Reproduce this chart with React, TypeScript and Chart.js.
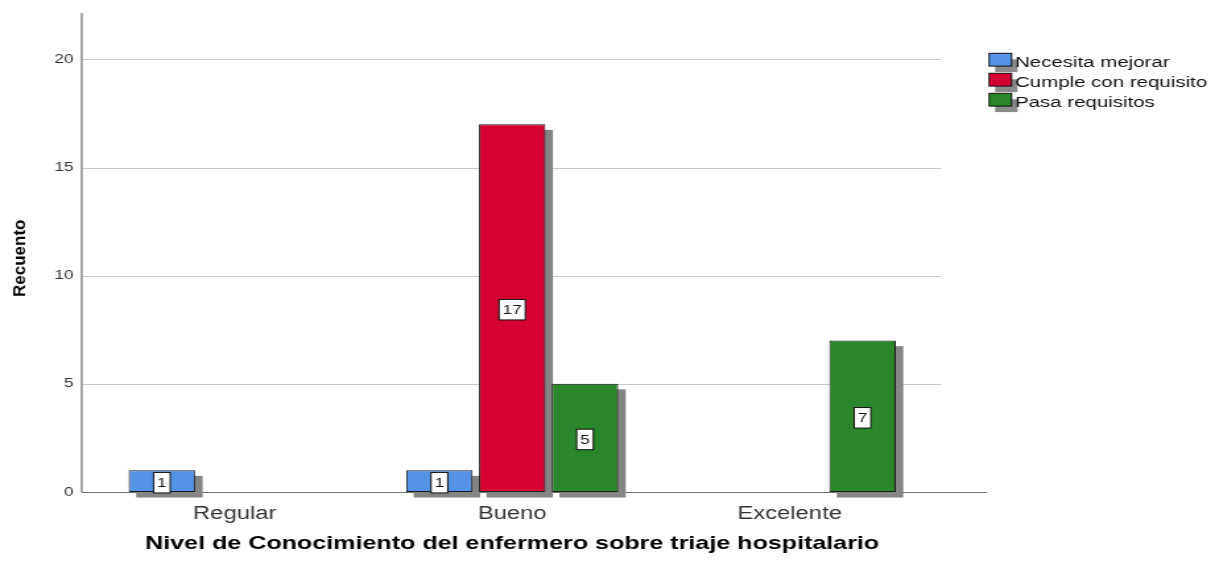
import { useEffect, useRef } from "react";
import { Chart, registerables } from "chart.js";

Chart.register(...registerables);

// ---- data ----
const categories = ["Regular", "Bueno", "Excelente"];
const seriesNames = ["Necesita mejorar", "Cumple con requisito", "Pasa requisitos"];
const necesitaMejorar = [1, 1, null];
const cumpleConRequisito = [null, 17, null];
const pasaRequisitos = [null, 5, 7];
const seriesColors = ["#5492e3", "#d40032", "#2a862a"];
const yTickValues = [0, 5, 10, 15, 20];
const yTitle = "Recuento";
const xTitle = "Nivel de Conocimiento del enfermero sobre triaje hospitalario";

// ---- layout (internal canvas coords; canvas is stretched horizontally by S) ----
const W = 921;
const H = 561;
const S = 1215 / W;
const AREA_LEFT = 72.7;
const AREA_RIGHT = 703.8;
const AREA_TOP = 13;
const AREA_BOTTOM = 492;
const Y_MAX = 22.15;
const FONT = "'Liberation Sans', Arial, sans-serif";

const decorPlugin = {
  id: "decor",
  beforeDatasetsDraw(chart: any) {
    const { ctx, scales } = chart;
    const ys = scales.y;
    ctx.save();
    // gridlines
    ctx.strokeStyle = "#c9c9c9";
    ctx.lineWidth = 1;
    yTickValues.forEach((v) => {
      if (v === 0) return;
      const py = Math.round(ys.getPixelForValue(v)) + 0.5;
      ctx.beginPath();
      ctx.moveTo(62, py);
      ctx.lineTo(713.3, py);
      ctx.stroke();
    });
    // x axis line
    const by = Math.round(ys.getPixelForValue(0)) + 0.5;
    ctx.strokeStyle = "#737373";
    ctx.beginPath();
    ctx.moveTo(62, by);
    ctx.lineTo(748.2, by);
    ctx.stroke();
    // y axis line
    ctx.strokeStyle = "#8f8f8f";
    ctx.lineWidth = 1.5;
    ctx.beginPath();
    ctx.moveTo(61.9, chart.chartArea.top);
    ctx.lineTo(61.9, by);
    ctx.stroke();
    // bar shadows
    ctx.fillStyle = "#858585";
    chart.data.datasets.forEach((ds: any, di: number) => {
      const meta = chart.getDatasetMeta(di);
      meta.data.forEach((el: any, i: number) => {
        if (ds.data[i] == null) return;
        const p = el.getProps(["x", "y", "base", "width"], true);
        ctx.fillRect(p.x - p.width / 2 + 5.7, p.y + 5.5, p.width, p.base - p.y);
      });
    });
    ctx.restore();
  },
  afterDatasetsDraw(chart: any) {
    const { ctx } = chart;
    ctx.save();
    ctx.font = `13px ${FONT}`;
    ctx.textAlign = "center";
    ctx.textBaseline = "middle";
    chart.data.datasets.forEach((ds: any, di: number) => {
      const meta = chart.getDatasetMeta(di);
      meta.data.forEach((el: any, i: number) => {
        const v = ds.data[i];
        if (v == null) return;
        const p = el.getProps(["x", "y", "base"], true);
        const cy = (p.y + p.base) / 2 + 1.5;
        const txt = String(v);
        const tw = ctx.measureText(txt).width;
        const bw = tw + 5.4;
        const bh = 20.5;
        ctx.fillStyle = "#ffffff";
        ctx.fillRect(p.x - bw / 2, cy - bh / 2, bw, bh);
        ctx.strokeStyle = "#111111";
        ctx.lineWidth = 1;
        ctx.strokeRect(p.x - bw / 2, cy - bh / 2, bw, bh);
        ctx.fillStyle = "#1a1a1a";
        ctx.fillText(txt, p.x, cy + 0.5);
      });
    });
    ctx.restore();
  },
  afterDraw(chart: any) {
    const { ctx } = chart;
    ctx.save();
    // legend
    const bx = 749.8;
    const bw = 17;
    const bh = 12.8;
    seriesNames.forEach((name, i) => {
      const top = 53.3 + i * 20;
      ctx.fillStyle = "#8a8a8a";
      ctx.fillRect(bx + 4.5, top + 6, bw, bh);
      ctx.fillStyle = seriesColors[i];
      ctx.fillRect(bx, top, bw, bh);
      ctx.strokeStyle = "#111111";
      ctx.lineWidth = 1;
      ctx.strokeRect(bx, top, bw, bh);
      ctx.fillStyle = "#111111";
      ctx.font = `15.5px ${FONT}`;
      ctx.textAlign = "left";
      ctx.textBaseline = "alphabetic";
      ctx.fillText(name, 769.4, 66.7 + i * 20);
    });
    // y axis title (not stretched in reference)
    ctx.translate(25.5 / S, 258.3);
    ctx.scale(1 / S, 1);
    ctx.rotate(-Math.PI / 2);
    ctx.font = `bold 17px ${FONT}`;
    ctx.fillStyle = "#000000";
    ctx.textAlign = "center";
    ctx.textBaseline = "alphabetic";
    ctx.fillText(yTitle, 0, 0);
    ctx.restore();
  },
};

export default function App() {
  const ref = useRef<HTMLCanvasElement>(null);
  useEffect(() => {
    if (!ref.current) return;
    Chart.defaults.font.family = FONT;
    const seriesData = [necesitaMejorar, cumpleConRequisito, pasaRequisitos];
    const chart = new Chart(ref.current, {
      type: "bar",
      data: {
        labels: categories,
        datasets: seriesNames.map((name, i) => ({
          label: name,
          data: seriesData[i],
          backgroundColor: seriesColors[i],
          borderColor: "#1a1a1a",
          borderWidth: 1,
          borderSkipped: false,
          categoryPercentage: 0.787,
          barPercentage: 0.913,
        })),
      },
      options: {
        responsive: false,
        animation: false,
        devicePixelRatio: 1,
        layout: {
          padding: { left: 0, top: AREA_TOP, right: W - AREA_RIGHT, bottom: 0 },
        },
        plugins: {
          legend: { display: false },
          tooltip: { enabled: false },
        },
        scales: {
          x: {
            type: "category",
            grid: { display: false, drawTicks: false },
            border: { display: false },
            ticks: {
              padding: 11,
              font: { family: FONT, size: 18 },
              color: "#333333",
              maxRotation: 0,
              autoSkip: false,
            },
            title: {
              display: true,
              text: xTitle,
              font: { family: FONT, size: 19, weight: "bold" },
              color: "#000000",
              padding: { top: 0, bottom: 6 },
            },
            afterFit: (s: any) => {
              s.height = H - AREA_BOTTOM;
              s.paddingLeft = 0;
              s.paddingRight = 0;
            },
          },
          y: {
            type: "linear",
            min: 0,
            max: Y_MAX,
            grid: { display: false, drawTicks: false },
            border: { display: false },
            ticks: {
              padding: 17,
              font: { family: FONT, size: 13 },
              color: "#333333",
            },
            afterBuildTicks: (s: any) => {
              s.ticks = yTickValues.map((v) => ({ value: v }));
            },
            afterFit: (s: any) => {
              s.width = AREA_LEFT;
              s.paddingTop = 0;
              s.paddingBottom = 0;
            },
          },
        },
      } as any,
      plugins: [decorPlugin],
    });
    return () => chart.destroy();
  }, []);
  return (
    <div
      style={{
        position: "absolute",
        left: 0,
        top: 0,
        width: 1215,
        height: 561,
        overflow: "hidden",
        background: "#ffffff",
      }}
    >
      <div style={{ width: W, height: H, transform: `scale(${S}, 1)`, transformOrigin: "0 0" }}>
        <canvas ref={ref} width={W} height={H} style={{ display: "block", width: W, height: H }} />
      </div>
    </div>
  );
}
